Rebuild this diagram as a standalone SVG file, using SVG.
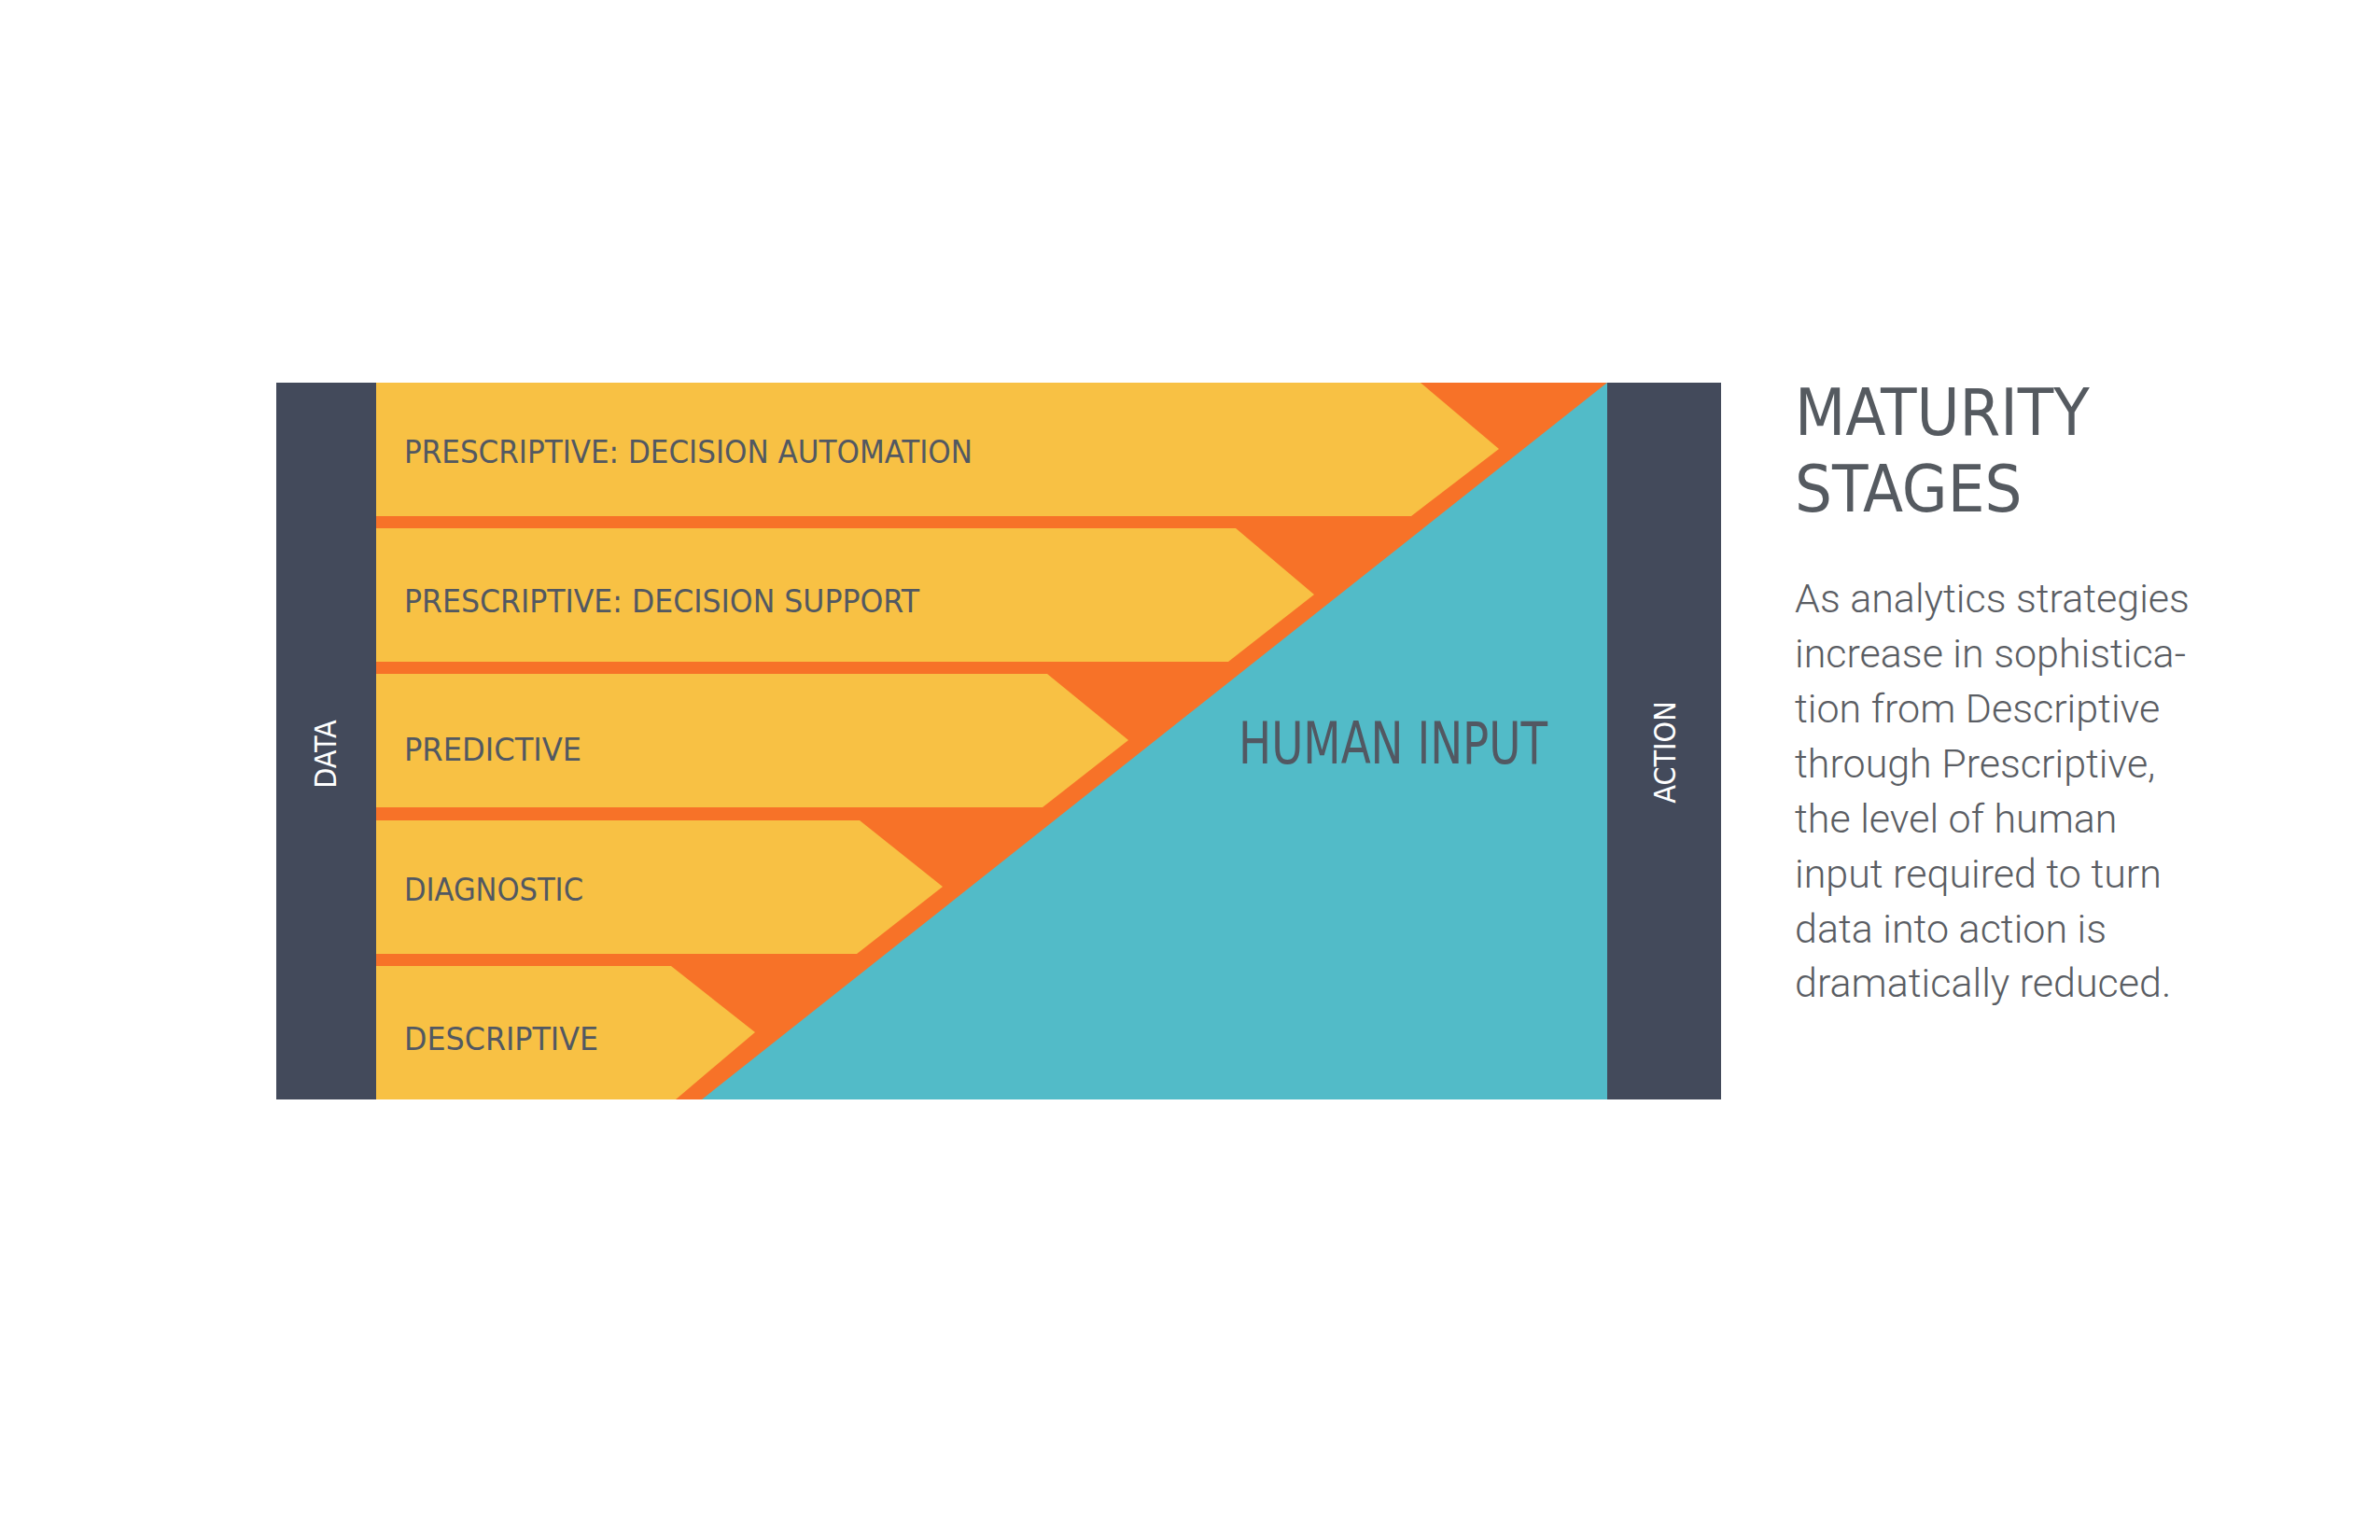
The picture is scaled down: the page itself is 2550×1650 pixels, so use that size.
<svg xmlns="http://www.w3.org/2000/svg" width="2550" height="1650" viewBox="0 0 2550 1650">
<style>
.bar{fill:#434a5b}
.arrow{fill:#f8c144}
.lbl{font-family:"DejaVu Sans Condensed","DejaVu Sans",sans-serif;font-stretch:condensed;font-size:34px;fill:#525862}
.side{font-family:"DejaVu Sans Condensed","DejaVu Sans",sans-serif;font-size:32px;fill:#ffffff;text-anchor:middle}
.head{font-family:"DejaVu Sans Condensed","DejaVu Sans",sans-serif;font-size:70px;fill:#555a60}
.para{font-family:Roboto,sans-serif;font-weight:300;font-size:43px;fill:#5a5d63}
</style>
<rect width="2550" height="1650" fill="#ffffff"/>
<g id="background">
<rect x="403" y="410" width="1319" height="768" fill="#f77228"/>
</g>
<g id="descriptive">
<polygon class="arrow" points="403,1035 719,1035 809,1106 724,1178 403,1178"/>
<text class="lbl" x="433" y="1125" textLength="208" lengthAdjust="spacingAndGlyphs">DESCRIPTIVE</text>
</g>
<g id="diagnostic">
<polygon class="arrow" points="403,879 921,879 1010,950 918,1022 403,1022"/>
<text class="lbl" x="433" y="965" textLength="192" lengthAdjust="spacingAndGlyphs">DIAGNOSTIC</text>
</g>
<g id="predictive">
<polygon class="arrow" points="403,722 1122,722 1209,793 1117,865 403,865"/>
<text class="lbl" x="433" y="815" textLength="190" lengthAdjust="spacingAndGlyphs">PREDICTIVE</text>
</g>
<g id="decision-support">
<polygon class="arrow" points="403,566 1324,566 1408,637 1316,709 403,709"/>
<text class="lbl" x="433" y="656" textLength="552" lengthAdjust="spacingAndGlyphs">PRESCRIPTIVE: DECISION SUPPORT</text>
</g>
<g id="decision-automation">
<polygon class="arrow" points="403,410 1522,410 1606,481 1512,553 403,553"/>
<text class="lbl" x="433" y="496" textLength="609" lengthAdjust="spacingAndGlyphs">PRESCRIPTIVE: DECISION AUTOMATION</text>
</g>
<g id="human-input">
<polygon points="1722,410 752,1178 1722,1178" fill="#52bbc8"/>
<text class="lbl" x="1327" y="818" style="font-size:62px" textLength="331" lengthAdjust="spacingAndGlyphs">HUMAN INPUT</text>
</g>
<g id="data">
<rect class="bar" x="296" y="410" width="107" height="768"/>
<text class="side" transform="translate(360,808) rotate(-90)">DATA</text>
</g>
<g id="action">
<rect class="bar" x="1722" y="410" width="122" height="768"/>
<text class="side" transform="translate(1795,806) rotate(-90)">ACTION</text>
</g>
<g id="connectors"></g>
<g id="title">
<text class="head" x="1923" y="466">MATURITY</text>
<text class="head" x="1923" y="548">STAGES</text>
</g>
<g id="description">
<text class="para" x="1923" y="656">As analytics strategies</text>
<text class="para" x="1923" y="715">increase in sophistica-</text>
<text class="para" x="1923" y="774">tion from Descriptive</text>
<text class="para" x="1923" y="833">through Prescriptive,</text>
<text class="para" x="1923" y="892">the level of human</text>
<text class="para" x="1923" y="951">input required to turn</text>
<text class="para" x="1923" y="1010">data into action is</text>
<text class="para" x="1923" y="1068">dramatically reduced.</text>
</g>
</svg>
